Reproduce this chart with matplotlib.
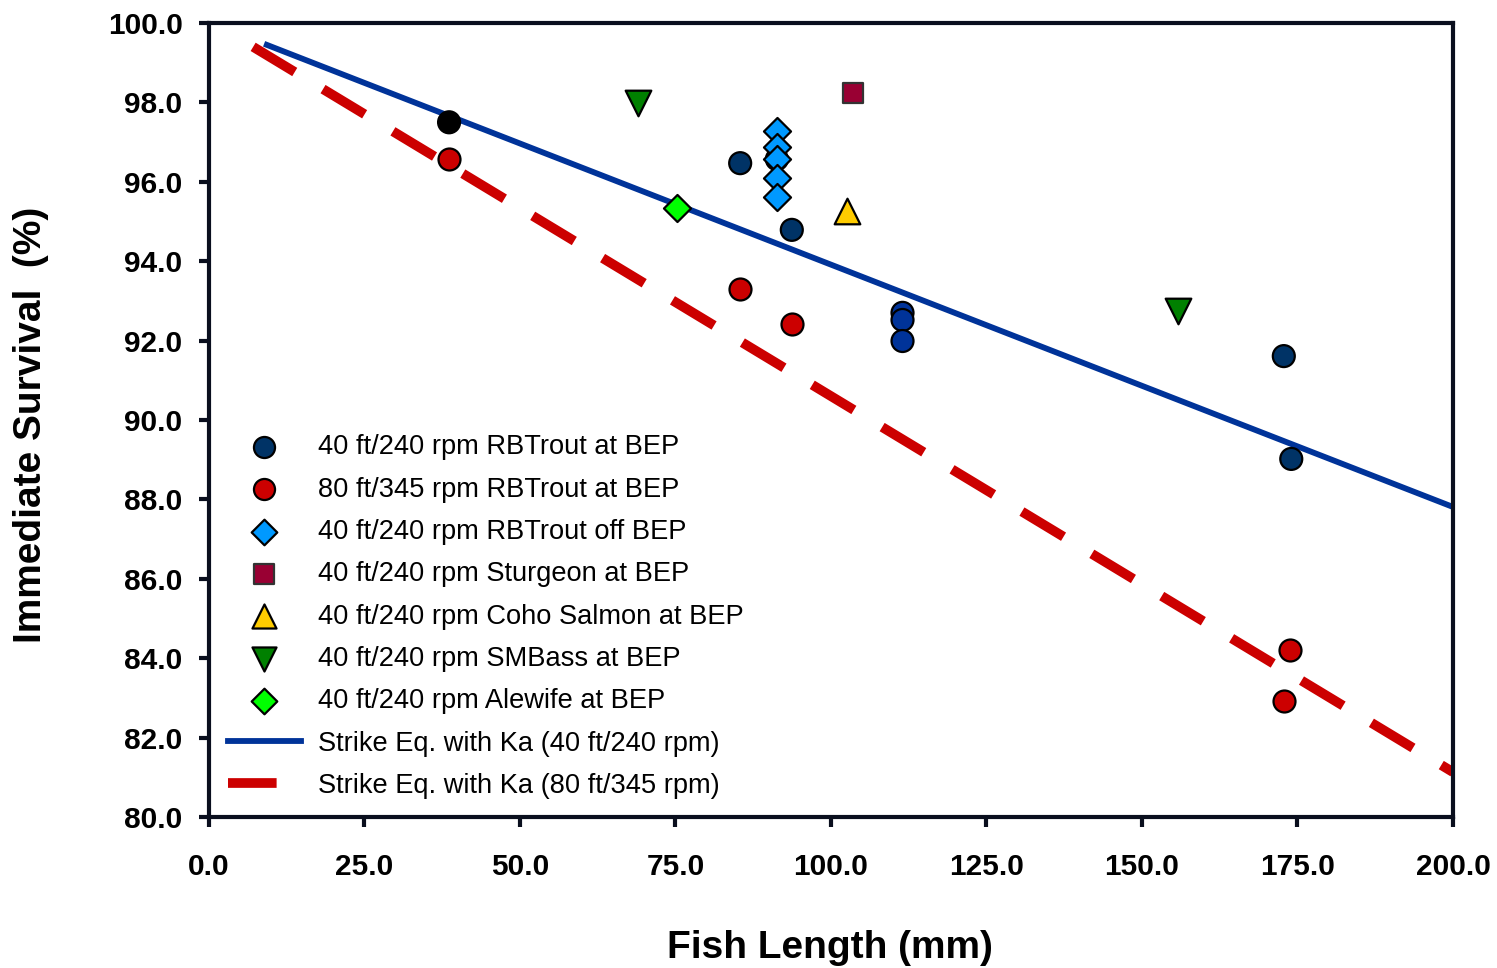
import numpy as np
import matplotlib.pyplot as plt

plt.rcParams['font.family'] = ['Liberation Sans', 'DejaVu Sans']

# 40 ft/240 rpm RBTrout at BEP
trout40_x = [38.6, 85.4, 91.3, 93.7, 111.5, 111.5, 111.5, 172.8, 174.0]
trout40_y = [97.5, 96.47, 96.57, 94.79, 92.70, 92.52, 91.99, 91.61, 89.02]
trout40_c = ['#000000', '#003366', '#003366', '#003366', '#003399', '#003399', '#003399', '#003366', '#003366']
# 80 ft/345 rpm RBTrout at BEP
trout80_x = [38.6, 85.4, 93.7, 173.8, 172.8]
trout80_y = [96.57, 93.30, 92.42, 84.21, 82.92]
# 40 ft/240 rpm RBTrout off BEP
troutoff_x = [91.3, 91.3, 91.3, 91.3, 91.3]
troutoff_y = [97.28, 96.88, 96.57, 96.10, 95.62]
sturgeon_x, sturgeon_y = [103.5], [98.24]
coho_x, coho_y = [102.6], [95.26]
smbass_x, smbass_y = [69.0, 155.8], [97.98, 92.75]
alewife_x, alewife_y = [75.2], [95.34]
# strike equation lines
strike40_x, strike40_y = [9.3, 200.0], [99.45, 87.81]
strike80_x, strike80_y = [7.1, 200.0], [99.40, 81.13]

fig = plt.figure(figsize=(14.97, 9.68), dpi=100)
ax = fig.add_axes([0.1396, 0.156, 0.831, 0.8202])

ax.plot(strike40_x, strike40_y, color='#003399', lw=4.2, zorder=2,
        label='Strike Eq. with Ka (40 ft/240 rpm)')
ax.plot(strike80_x, strike80_y, color='#CC0000', lw=7, dashes=(5, 3.4), zorder=2,
        label='Strike Eq. with Ka (80 ft/345 rpm)')

ec = 'black'
ax.scatter(trout40_x, trout40_y, s=250, c=trout40_c, edgecolors=ec, linewidths=1.6, zorder=3)
ax.scatter(troutoff_x, troutoff_y, s=190, marker='D', c='#0099FF', edgecolors=ec, linewidths=1.6, zorder=4)
ax.scatter(trout80_x, trout80_y, s=250, c='#CC0000', edgecolors=ec, linewidths=1.6, zorder=3)
ax.scatter(sturgeon_x, sturgeon_y, s=210, marker='s', c='#990033', edgecolors='#333333', linewidths=1.6, zorder=3)
ax.scatter(coho_x, coho_y, s=340, marker='^', c='#FFCC00', edgecolors=ec, linewidths=1.6, zorder=3)
ax.scatter(smbass_x, smbass_y, s=340, marker='v', c='#008000', edgecolors=ec, linewidths=1.6, zorder=3)
ax.scatter(alewife_x, alewife_y, s=190, marker='D', c='#00FF00', edgecolors=ec, linewidths=1.6, zorder=3)

# legend handles
h = []
h.append(ax.scatter([], [], s=230, c='#003366', edgecolors=ec, linewidths=1.6, label='40 ft/240 rpm RBTrout at BEP'))
h.append(ax.scatter([], [], s=230, c='#CC0000', edgecolors=ec, linewidths=1.6, label='80 ft/345 rpm RBTrout at BEP'))
h.append(ax.scatter([], [], s=170, marker='D', c='#0099FF', edgecolors=ec, linewidths=1.6, label='40 ft/240 rpm RBTrout off BEP'))
h.append(ax.scatter([], [], s=210, marker='s', c='#990033', edgecolors='#333333', linewidths=1.6, label='40 ft/240 rpm Sturgeon at BEP'))
h.append(ax.scatter([], [], s=300, marker='^', c='#FFCC00', edgecolors=ec, linewidths=1.6, label='40 ft/240 rpm Coho Salmon at BEP'))
h.append(ax.scatter([], [], s=300, marker='v', c='#008000', edgecolors=ec, linewidths=1.6, label='40 ft/240 rpm SMBass at BEP'))
h.append(ax.scatter([], [], s=170, marker='D', c='#00FF00', edgecolors=ec, linewidths=1.6, label='40 ft/240 rpm Alewife at BEP'))
h += list(ax.get_lines())

ax.legend(handles=h, loc='upper left', bbox_to_anchor=(0.015, 0.482), frameon=False,
          fontsize=19.6, handlelength=2.7, handletextpad=0.62, labelspacing=0.6,
          borderpad=0, borderaxespad=0, scatterpoints=1)

ax.set_xlim(0, 200)
ax.set_ylim(80, 100)
xt = np.arange(0, 201, 25)
yt = np.arange(80, 101, 2)
ax.set_xticks(xt)
ax.set_yticks(yt)
ax.set_xticklabels([f'{v:.1f}' for v in xt])
ax.set_yticklabels([f'{v:.1f}' for v in yt])
for s in ax.spines.values():
    s.set_linewidth(3)
    s.set_color('#0a0f1e')
ax.tick_params(direction='out', length=7, width=3, color='#0a0f1e', labelsize=21.5, pad=12)
ax.tick_params(axis='x', pad=19)
for lab in ax.get_xticklabels() + ax.get_yticklabels():
    lab.set_fontweight('bold')

ax.set_xlabel('Fish Length (mm)', fontsize=28, fontweight='bold')
ax.set_ylabel('Immediate Survival  (%)', fontsize=28, fontweight='bold')
ax.xaxis.set_label_coords(0.499, -0.142)
ax.yaxis.set_label_coords(-0.129, 0.494)

fig.savefig('out.png', dpi=100)
